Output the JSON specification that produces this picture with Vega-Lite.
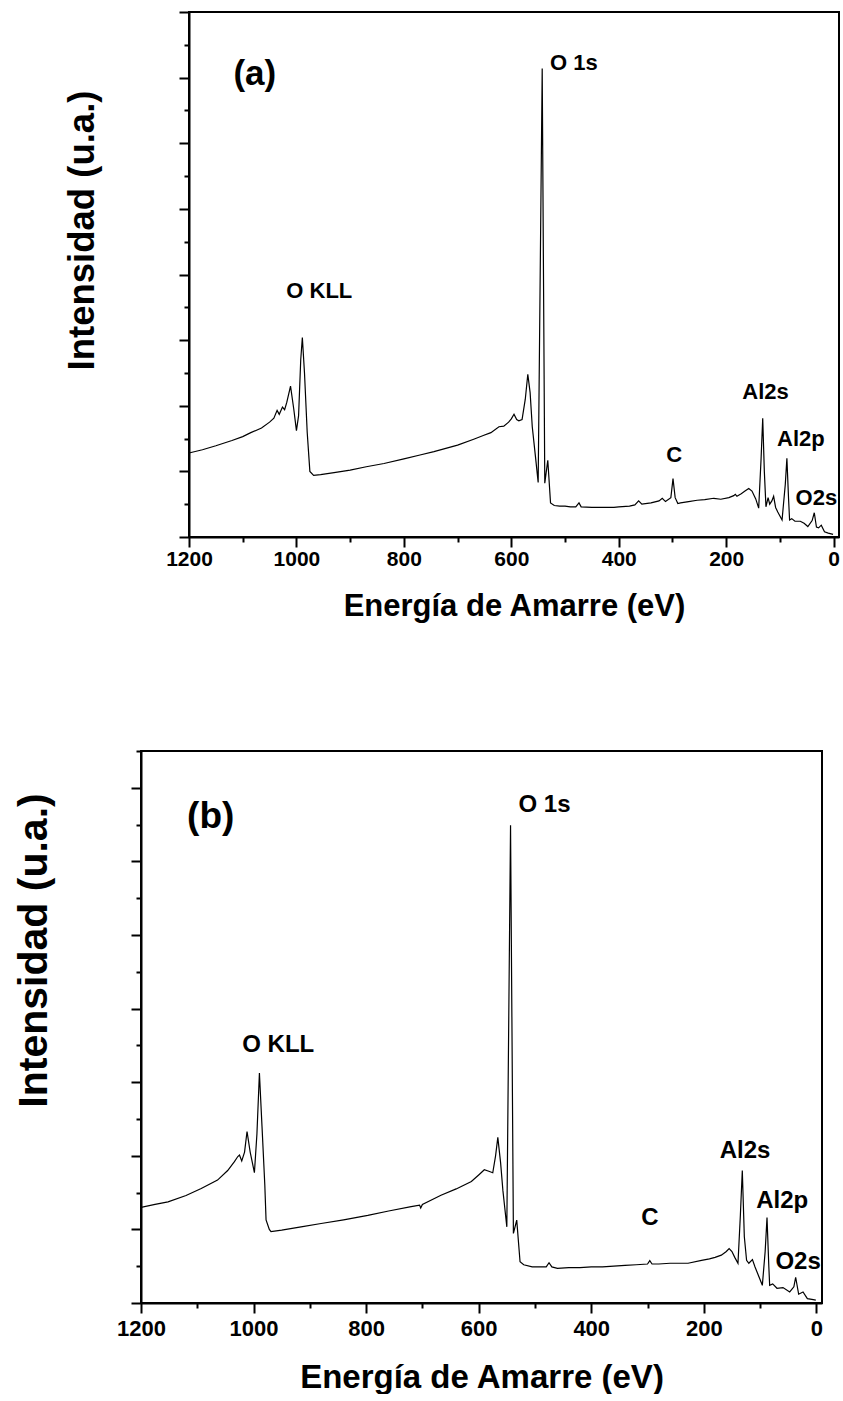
{
  "$schema": "https://vega.github.io/schema/vega-lite/v6.json",
  "background": "white",
  "padding": {"left": 13, "top": 11, "right": 0, "bottom": 0},
  "spacing": 129,
  "config": {
    "view": {"stroke": null},
    "font": "Liberation Sans",
    "axis": {
      "grid": false,
      "domainColor": "black",
      "domainWidth": 2,
      "tickColor": "black",
      "tickWidth": 2,
      "labelColor": "black",
      "titleColor": "black",
      "labelFont": "Liberation Sans",
      "titleFont": "Liberation Sans",
      "labelFontWeight": "bold",
      "titleFontWeight": "bold",
      "labelOverlap": false,
      "labelFlush": false
    }
  },
  "datasets": {
    "a": [
      {"eV": 1200, "I": 1.28}, {"eV": 1175, "I": 1.33}, {"eV": 1150, "I": 1.39}, {"eV": 1120, "I": 1.47}, {"eV": 1100, "I": 1.53},
      {"eV": 1085, "I": 1.59}, {"eV": 1065, "I": 1.66}, {"eV": 1050, "I": 1.75}, {"eV": 1042, "I": 1.81}, {"eV": 1036, "I": 1.93},
      {"eV": 1032, "I": 1.87}, {"eV": 1026, "I": 1.98}, {"eV": 1022, "I": 1.94}, {"eV": 1018, "I": 2.05}, {"eV": 1011, "I": 2.3},
      {"eV": 1005, "I": 1.95}, {"eV": 1000, "I": 1.62}, {"eV": 996, "I": 1.85}, {"eV": 992, "I": 2.7}, {"eV": 989, "I": 3.04},
      {"eV": 985, "I": 2.5}, {"eV": 980, "I": 1.6}, {"eV": 975, "I": 1.0}, {"eV": 968, "I": 0.94}, {"eV": 955, "I": 0.95},
      {"eV": 930, "I": 0.98}, {"eV": 900, "I": 1.02}, {"eV": 870, "I": 1.07}, {"eV": 837, "I": 1.12}, {"eV": 800, "I": 1.19},
      {"eV": 770, "I": 1.25}, {"eV": 744, "I": 1.3}, {"eV": 700, "I": 1.4}, {"eV": 670, "I": 1.49}, {"eV": 651, "I": 1.55},
      {"eV": 638, "I": 1.59}, {"eV": 623, "I": 1.68}, {"eV": 614, "I": 1.69}, {"eV": 605, "I": 1.75}, {"eV": 600, "I": 1.8},
      {"eV": 595, "I": 1.87}, {"eV": 590, "I": 1.79}, {"eV": 586, "I": 1.77}, {"eV": 580, "I": 1.79}, {"eV": 574, "I": 2.1},
      {"eV": 569.3, "I": 2.48}, {"eV": 565, "I": 2.2}, {"eV": 561, "I": 1.68}, {"eV": 555, "I": 1.22}, {"eV": 550, "I": 0.83},
      {"eV": 542.5, "I": 7.14}, {"eV": 537.7, "I": 0.82}, {"eV": 532.1, "I": 1.17}, {"eV": 527, "I": 0.52}, {"eV": 520, "I": 0.48},
      {"eV": 510, "I": 0.47}, {"eV": 500, "I": 0.47}, {"eV": 490, "I": 0.46}, {"eV": 480, "I": 0.46}, {"eV": 474, "I": 0.52},
      {"eV": 470, "I": 0.46}, {"eV": 450, "I": 0.45}, {"eV": 430, "I": 0.45}, {"eV": 409, "I": 0.45}, {"eV": 400, "I": 0.46},
      {"eV": 380, "I": 0.47}, {"eV": 370, "I": 0.49}, {"eV": 363, "I": 0.55}, {"eV": 357, "I": 0.5}, {"eV": 340, "I": 0.52},
      {"eV": 325, "I": 0.55}, {"eV": 319, "I": 0.59}, {"eV": 313, "I": 0.54}, {"eV": 303, "I": 0.6}, {"eV": 299, "I": 0.89},
      {"eV": 295, "I": 0.6}, {"eV": 290, "I": 0.51}, {"eV": 285, "I": 0.52}, {"eV": 270, "I": 0.54}, {"eV": 254, "I": 0.56},
      {"eV": 240, "I": 0.57}, {"eV": 223, "I": 0.59}, {"eV": 210, "I": 0.575}, {"eV": 195, "I": 0.6}, {"eV": 186, "I": 0.63},
      {"eV": 183, "I": 0.65}, {"eV": 180, "I": 0.62}, {"eV": 172, "I": 0.66}, {"eV": 165, "I": 0.7}, {"eV": 158, "I": 0.74},
      {"eV": 152, "I": 0.7}, {"eV": 145, "I": 0.58}, {"eV": 139.5, "I": 0.44}, {"eV": 135, "I": 1.2}, {"eV": 132, "I": 1.81},
      {"eV": 129, "I": 1.0}, {"eV": 126, "I": 0.46}, {"eV": 122, "I": 0.6}, {"eV": 119, "I": 0.5}, {"eV": 115, "I": 0.55},
      {"eV": 111.7, "I": 0.62}, {"eV": 108, "I": 0.45}, {"eV": 104, "I": 0.38}, {"eV": 96, "I": 0.26}, {"eV": 90, "I": 0.8},
      {"eV": 87, "I": 1.2}, {"eV": 84, "I": 0.6}, {"eV": 82, "I": 0.26}, {"eV": 78, "I": 0.28}, {"eV": 72, "I": 0.24},
      {"eV": 62, "I": 0.24}, {"eV": 55, "I": 0.21}, {"eV": 48, "I": 0.16}, {"eV": 40, "I": 0.25}, {"eV": 36, "I": 0.37},
      {"eV": 32, "I": 0.15}, {"eV": 28, "I": 0.14}, {"eV": 23, "I": 0.18}, {"eV": 17, "I": 0.08}, {"eV": 10, "I": 0.06},
      {"eV": 1, "I": 0.04}
    ],
    "b": [
      {"eV": 1200, "I": 1.3}, {"eV": 1175, "I": 1.34}, {"eV": 1152, "I": 1.375}, {"eV": 1120, "I": 1.46}, {"eV": 1093, "I": 1.556},
      {"eV": 1064, "I": 1.67}, {"eV": 1046, "I": 1.8}, {"eV": 1034, "I": 1.92}, {"eV": 1028, "I": 1.99}, {"eV": 1025, "I": 2.01},
      {"eV": 1021, "I": 1.93}, {"eV": 1016, "I": 2.05}, {"eV": 1011.6, "I": 2.33}, {"eV": 1006, "I": 2.05}, {"eV": 998.5, "I": 1.77},
      {"eV": 994, "I": 2.3}, {"eV": 989.6, "I": 3.125}, {"eV": 985, "I": 2.4}, {"eV": 980, "I": 1.6}, {"eV": 977.8, "I": 1.13},
      {"eV": 972, "I": 1.0}, {"eV": 969, "I": 0.97}, {"eV": 950, "I": 0.99}, {"eV": 915.6, "I": 1.035}, {"eV": 880, "I": 1.08},
      {"eV": 840, "I": 1.13}, {"eV": 797, "I": 1.19}, {"eV": 760, "I": 1.25}, {"eV": 720, "I": 1.31}, {"eV": 705, "I": 1.33},
      {"eV": 703, "I": 1.29}, {"eV": 700, "I": 1.34}, {"eV": 667, "I": 1.465}, {"eV": 640, "I": 1.55}, {"eV": 613, "I": 1.65},
      {"eV": 600, "I": 1.74}, {"eV": 590, "I": 1.81}, {"eV": 582, "I": 1.79}, {"eV": 575, "I": 1.77}, {"eV": 570, "I": 2.0},
      {"eV": 566, "I": 2.25}, {"eV": 561, "I": 1.9}, {"eV": 557, "I": 1.53}, {"eV": 550, "I": 1.035}, {"eV": 543.4, "I": 6.49},
      {"eV": 538.3, "I": 0.946}, {"eV": 532.4, "I": 1.126}, {"eV": 526.5, "I": 0.56}, {"eV": 520, "I": 0.52}, {"eV": 505, "I": 0.49},
      {"eV": 490, "I": 0.49}, {"eV": 480, "I": 0.49}, {"eV": 475, "I": 0.547}, {"eV": 470, "I": 0.49}, {"eV": 460, "I": 0.47},
      {"eV": 440, "I": 0.48}, {"eV": 420, "I": 0.48}, {"eV": 400, "I": 0.49}, {"eV": 380, "I": 0.49}, {"eV": 360, "I": 0.5},
      {"eV": 340, "I": 0.51}, {"eV": 320, "I": 0.52}, {"eV": 300, "I": 0.53}, {"eV": 296, "I": 0.575}, {"eV": 292, "I": 0.53},
      {"eV": 280, "I": 0.53}, {"eV": 260, "I": 0.54}, {"eV": 240, "I": 0.54}, {"eV": 228, "I": 0.54}, {"eV": 204, "I": 0.58},
      {"eV": 190, "I": 0.6}, {"eV": 180, "I": 0.62}, {"eV": 168.9, "I": 0.65}, {"eV": 160, "I": 0.7}, {"eV": 155, "I": 0.74},
      {"eV": 150, "I": 0.7}, {"eV": 145, "I": 0.62}, {"eV": 139.3, "I": 0.54}, {"eV": 135, "I": 1.2}, {"eV": 131.6, "I": 1.8},
      {"eV": 128, "I": 0.9}, {"eV": 124, "I": 0.58}, {"eV": 120, "I": 0.54}, {"eV": 113.6, "I": 0.59}, {"eV": 109, "I": 0.49},
      {"eV": 103.3, "I": 0.38}, {"eV": 96, "I": 0.24}, {"eV": 91, "I": 0.7}, {"eV": 87.7, "I": 1.16}, {"eV": 84.5, "I": 0.5},
      {"eV": 83, "I": 0.24}, {"eV": 77.6, "I": 0.26}, {"eV": 70, "I": 0.2}, {"eV": 59.3, "I": 0.21}, {"eV": 47.4, "I": 0.15},
      {"eV": 40, "I": 0.22}, {"eV": 36.8, "I": 0.35}, {"eV": 31.5, "I": 0.12}, {"eV": 23.7, "I": 0.15}, {"eV": 16, "I": 0.06},
      {"eV": 8, "I": 0.05}, {"eV": 1, "I": 0.04}
    ],
    "peaksA": [
      {"eV": 483.7, "I": 7.23, "t": "O 1s"}, {"eV": 957.4, "I": 3.75, "t": "O KLL"}, {"eV": 126.7, "I": 2.215, "t": "Al2s"},
      {"eV": 61, "I": 1.49, "t": "Al2p"}, {"eV": 32.2, "I": 0.6, "t": "O2s"}, {"eV": 296.7, "I": 1.255, "t": "C"}
    ],
    "peaksB": [
      {"eV": 483, "I": 6.76, "t": "O 1s"}, {"eV": 956.1, "I": 3.5, "t": "O KLL"}, {"eV": 126.6, "I": 2.06, "t": "Al2s"},
      {"eV": 60.8, "I": 1.39, "t": "Al2p"}, {"eV": 32.4, "I": 0.56, "t": "O2s"}, {"eV": 295.7, "I": 1.15, "t": "C"}
    ],
    "tagA": [{"eV": 1077.4, "I": 7.05, "t": "(a)"}],
    "tagB": [{"eV": 1076.1, "I": 6.61, "t": "(b)"}],
    "frameA": [{"x1": 1200, "x2": -10, "y1": 0, "y2": 8}],
    "frameB": [{"x1": 1200, "x2": -10, "y1": 0, "y2": 7.5}]
  },
  "vconcat": [
    {
      "width": 698,
      "height": 525,
      "layer": [
        {
          "data": {"name": "frameA"},
          "mark": {"type": "rect", "fill": null, "stroke": "black", "strokeWidth": 2},
          "encoding": {
            "x": {"field": "x1", "type": "quantitative", "axis": null},
            "x2": {"field": "x2"},
            "y": {"field": "y1", "type": "quantitative", "axis": null},
            "y2": {"field": "y2"}
          }
        },
        {
          "data": {"name": "a"},
          "mark": {"type": "line", "color": "black", "strokeWidth": 1.2, "clip": true},
          "encoding": {
            "x": {
              "field": "eV", "type": "quantitative",
              "scale": {"domain": [1200, -10], "range": [48, 698], "nice": false, "zero": false},
              "axis": {
                "values": [1200, 1100, 1000, 900, 800, 700, 600, 500, 400, 300, 200, 100, 0],
                "format": "d",
                "labelExpr": "datum.value % 200 === 0 ? datum.label : ''",
                "tickSize": {"condition": {"test": "datum.value % 200 !== 0", "value": 5}, "value": 10},
                "labelFontSize": 21,
                "labelPadding": 1,
                "title": "Energía de Amarre (eV)",
                "titleFontSize": 31,
                "titlePadding": 22
              }
            },
            "y": {
              "field": "I", "type": "quantitative",
              "scale": {"domain": [0, 8], "nice": false, "zero": false},
              "axis": {
                "offset": -48,
                "values": [0, 0.5, 1, 1.5, 2, 2.5, 3, 3.5, 4, 4.5, 5, 5.5, 6, 6.5, 7, 7.5, 8],
                "labels": false,
                "tickSize": {"condition": {"test": "datum.value % 1 !== 0", "value": 5}, "value": 10},
                "title": "Intensidad (u.a.)",
                "titleFontSize": 36.5,
                "titlePadding": 77,
                "titleY": 218
              }
            }
          }
        },
        {
          "data": {"name": "peaksA"},
          "mark": {"type": "text", "fontWeight": "bold", "fontSize": 22, "font": "Liberation Sans", "align": "center", "baseline": "middle", "color": "black"},
          "encoding": {
            "x": {"field": "eV", "type": "quantitative", "axis": null},
            "y": {"field": "I", "type": "quantitative", "axis": null},
            "text": {"field": "t"}
          }
        },
        {
          "data": {"name": "tagA"},
          "mark": {"type": "text", "fontWeight": "bold", "fontSize": 35, "font": "Liberation Sans", "align": "center", "baseline": "middle", "color": "black"},
          "encoding": {
            "x": {"field": "eV", "type": "quantitative", "axis": null},
            "y": {"field": "I", "type": "quantitative", "axis": null},
            "text": {"field": "t"}
          }
        }
      ],
      "resolve": {"axis": {"x": "independent", "y": "independent"}}
    },
    {
      "width": 681,
      "height": 552,
      "layer": [
        {
          "data": {"name": "frameB"},
          "mark": {"type": "rect", "fill": null, "stroke": "black", "strokeWidth": 2},
          "encoding": {
            "x": {"field": "x1", "type": "quantitative", "axis": null},
            "x2": {"field": "x2"},
            "y": {"field": "y1", "type": "quantitative", "axis": null},
            "y2": {"field": "y2"}
          }
        },
        {
          "data": {"name": "b"},
          "mark": {"type": "line", "color": "black", "strokeWidth": 1.2, "clip": true},
          "encoding": {
            "x": {
              "field": "eV", "type": "quantitative",
              "scale": {"domain": [1200, -10], "nice": false, "zero": false},
              "axis": {
                "values": [1200, 1100, 1000, 900, 800, 700, 600, 500, 400, 300, 200, 100, 0],
                "format": "d",
                "labelExpr": "datum.value % 200 === 0 ? datum.label : ''",
                "tickSize": {"condition": {"test": "datum.value % 200 !== 0", "value": 5}, "value": 10},
                "labelFontSize": 22,
                "labelPadding": 5,
                "title": "Energía de Amarre (eV)",
                "titleFontSize": 33,
                "titlePadding": 22
              }
            },
            "y": {
              "field": "I", "type": "quantitative",
              "scale": {"domain": [0, 7.5], "nice": false, "zero": false},
              "axis": {
                "values": [0, 0.5, 1, 1.5, 2, 2.5, 3, 3.5, 4, 4.5, 5, 5.5, 6, 6.5, 7, 7.5],
                "labels": false,
                "tickSize": {"condition": {"test": "datum.value % 1 !== 0", "value": 5}, "value": 10},
                "title": "Intensidad (u.a.)",
                "titleFontSize": 41,
                "titlePadding": 75,
                "titleY": 199
              }
            }
          }
        },
        {
          "data": {"name": "peaksB"},
          "mark": {"type": "text", "fontWeight": "bold", "fontSize": 24, "font": "Liberation Sans", "align": "center", "baseline": "middle", "color": "black"},
          "encoding": {
            "x": {"field": "eV", "type": "quantitative", "axis": null},
            "y": {"field": "I", "type": "quantitative", "axis": null},
            "text": {"field": "t"}
          }
        },
        {
          "data": {"name": "tagB"},
          "mark": {"type": "text", "fontWeight": "bold", "fontSize": 37, "font": "Liberation Sans", "align": "center", "baseline": "middle", "color": "black"},
          "encoding": {
            "x": {"field": "eV", "type": "quantitative", "axis": null},
            "y": {"field": "I", "type": "quantitative", "axis": null},
            "text": {"field": "t"}
          }
        }
      ],
      "resolve": {"axis": {"x": "independent", "y": "independent"}}
    }
  ]
}
